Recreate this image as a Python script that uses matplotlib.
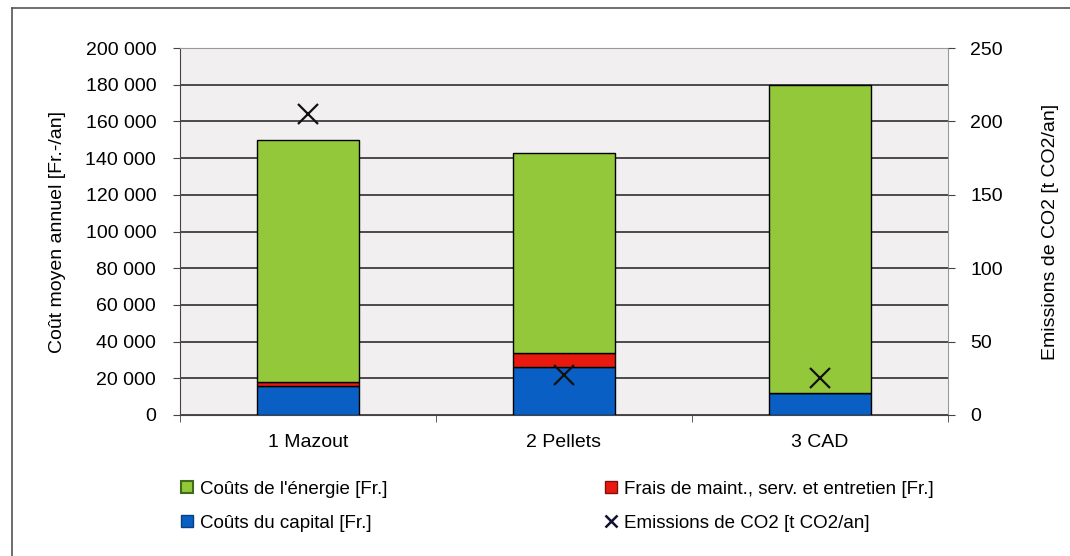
import matplotlib.pyplot as plt
from matplotlib.lines import Line2D
import numpy as np

plt.rcParams['font.family'] = ['Liberation Sans', 'DejaVu Sans']

variants = ['1 Mazout', '2 Pellets', '3 CAD']
capital = [16000, 26000, 12000]
maintenance = [2000, 8000, 0]
energy = [132000, 109000, 168000]
co2 = [205, 27, 25]

green = '#93c83a'
red = '#e8190f'
blue = '#0a5fc4'

fig = plt.figure(figsize=(10.7, 5.56), dpi=100)
ax = fig.add_axes([0.168, 0.2536, 0.718, 0.66])
ax.set_facecolor('#f1efef')

x = np.arange(len(variants))
w = 0.4
capital = np.array(capital)
maintenance = np.array(maintenance)
energy = np.array(energy)

ax.yaxis.grid(True, color='#2e2e2e', linewidth=1.2)
ax.set_axisbelow(True)

b1 = ax.bar(x, capital, w, color=blue, edgecolor='black', linewidth=1.0)
b2 = ax.bar(x, maintenance, w, bottom=capital, color=red, edgecolor='black', linewidth=1.0)
b3 = ax.bar(x, energy, w, bottom=capital + maintenance, color=green,
            edgecolor='black', linewidth=1.0)

ax.set_xlim(-0.5, 2.5)
ax.set_ylim(0, 200000)
ax.set_yticks(np.arange(0, 200001, 20000))
ax.set_yticklabels([f'{v:,}'.replace(',', ' ') for v in range(0, 200001, 20000)])
ax.set_xticks(x)
ax.set_xticklabels(variants)
ax.set_xticks([-0.5, 0.5, 1.5, 2.5], minor=True)
ax.tick_params(axis='x', which='major', length=0, pad=14, labelsize=14)
ax.tick_params(axis='x', which='minor', length=5, color='#444444')
ax.tick_params(axis='y', length=5, pad=12, labelsize=14, color='#444444')
ax.set_ylabel('Coût moyen annuel [Fr.-/an]', fontsize=14, labelpad=14)
for s in ['top', 'right']:
    ax.spines[s].set_color('#9a9a9a')
for s in ['left', 'bottom']:
    ax.spines[s].set_color('#444444')

ax2 = ax.twinx()
ax2.set_ylim(0, 250)
ax2.set_yticks(np.arange(0, 251, 50))
ax2.tick_params(axis='y', length=5, pad=11, labelsize=14, color='#444444')
ax2.set_ylabel('Emissions de CO2 [t CO2/an]', fontsize=14, labelpad=28)
ax2.plot(x, co2, linestyle='none', marker='x', markersize=15,
         markeredgewidth=1.6, color='#111111')
for s in ax2.spines.values():
    s.set_visible(False)

# outer frame of the chart area
fig.add_artist(Line2D([0.011, 1.0], [0.986, 0.986], color='#555555', linewidth=1.2))
fig.add_artist(Line2D([0.011, 0.011], [0.0, 0.986], color='#555555', linewidth=1.2))

handles = [
    Line2D([], [], linestyle='none', marker='s', markersize=8,
           markerfacecolor=green, markeredgecolor='#3f6b1a', markeredgewidth=1.5),
    Line2D([], [], linestyle='none', marker='s', markersize=8,
           markerfacecolor=blue, markeredgecolor='#0a3f80'),
    Line2D([], [], linestyle='none', marker='s', markersize=8,
           markerfacecolor=red, markeredgecolor='#801010'),
    Line2D([], [], linestyle='none', marker='x', markersize=9,
           markeredgewidth=1.8, color='#111133'),
]
labels = ["Coûts de l'énergie [Fr.]", 'Coûts du capital [Fr.]',
          'Frais de maint., serv. et entretien [Fr.]', 'Emissions de CO2 [t CO2/an]']
fig.legend(handles, labels, ncol=2, loc='upper left', bbox_to_anchor=(0.152, 0.166),
           frameon=False, fontsize=13.5, handlelength=0.8, handletextpad=0.3,
           columnspacing=11.5, labelspacing=0.9)

fig.savefig('out.png', dpi=100, facecolor='white')
